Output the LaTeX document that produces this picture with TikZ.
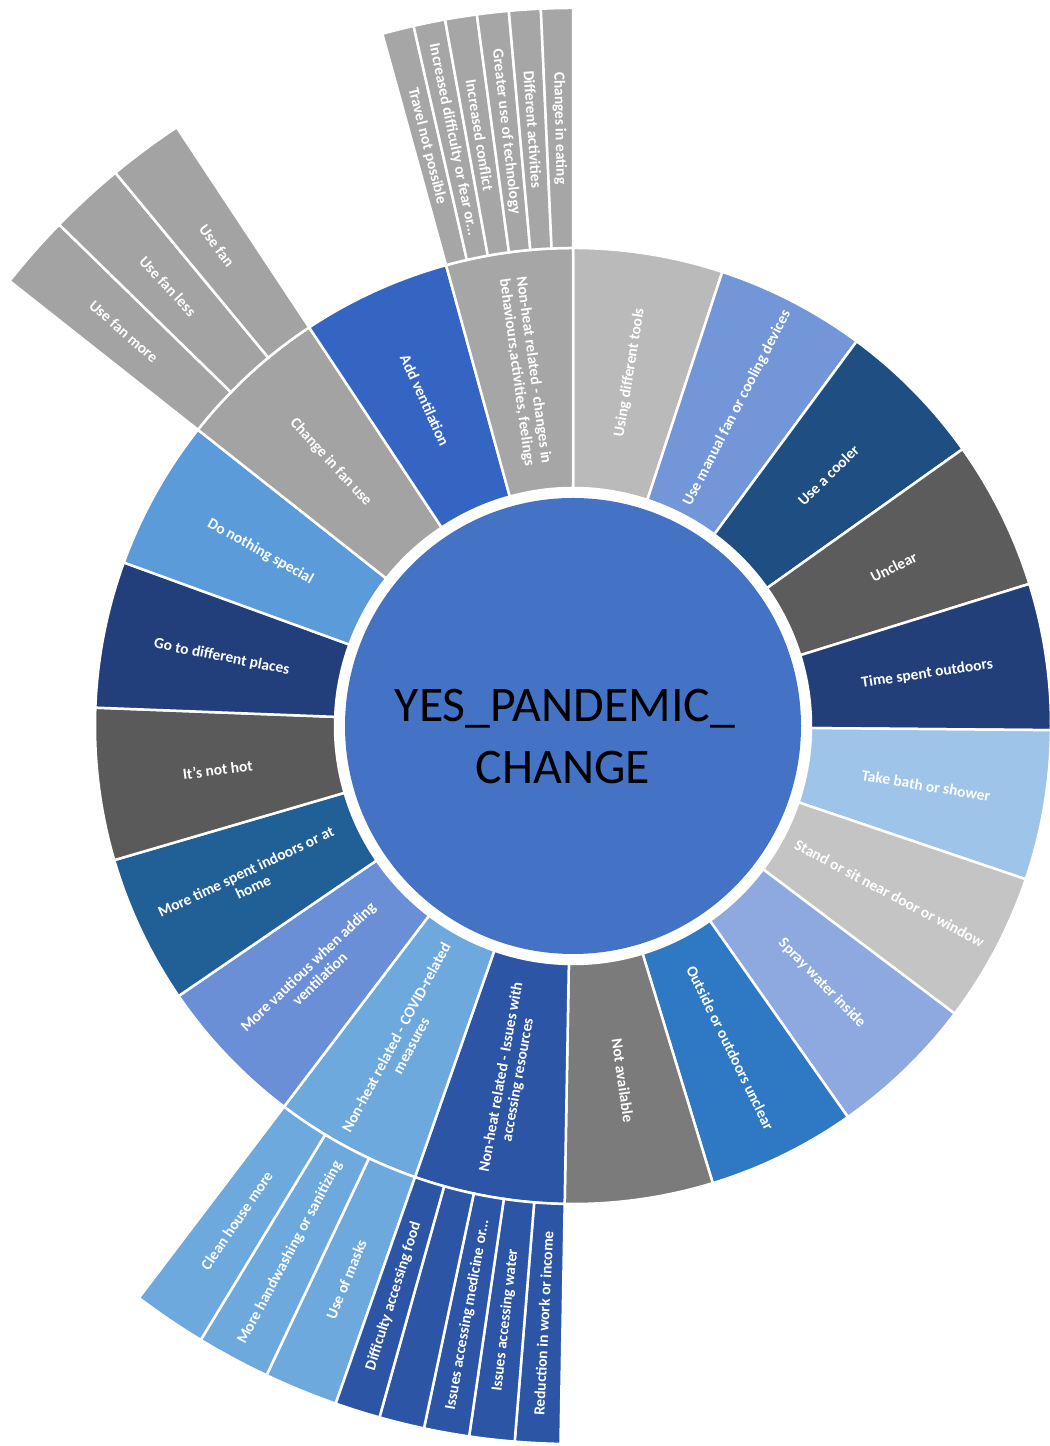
\documentclass[tikz,border=0pt]{standalone}
\usepackage{fontspec}
\setmainfont{Carlito}
\definecolor{cin}{HTML}{4472C4}
\definecolor{ctools}{HTML}{BABABA}
\definecolor{cmanual}{HTML}{7296D8}
\definecolor{ccooler}{HTML}{1F4E83}
\definecolor{cunclear}{HTML}{5C5C5C}
\definecolor{coutdoors}{HTML}{223F7A}
\definecolor{cbath}{HTML}{9EC4EA}
\definecolor{cstand}{HTML}{C4C4C4}
\definecolor{cspray}{HTML}{8EA9DF}
\definecolor{coutside}{HTML}{2E78C4}
\definecolor{cnotav}{HTML}{7B7B7B}
\definecolor{cissues}{HTML}{2D55A6}
\definecolor{ccovid}{HTML}{6EA9DE}
\definecolor{cvaut}{HTML}{6B8FD7}
\definecolor{cindoor}{HTML}{215F97}
\definecolor{cnothot}{HTML}{5A5A5A}
\definecolor{cplaces}{HTML}{223F7C}
\definecolor{cnothing}{HTML}{5B9BD9}
\definecolor{cfan}{HTML}{A3A3A3}
\definecolor{cvent}{HTML}{3565C3}
\definecolor{cbehav}{HTML}{A6A6A6}
% sector: start angle, end angle, inner r, outer r, colour
\newcommand\wedgeseg[5]{\filldraw[fill=#5,draw=white,line width=2.5bp,line join=miter]
  (#1:#3bp) arc[start angle=#1,end angle=#2,radius=#3bp] -- (#2:#4bp)
  arc[start angle=#2,end angle=#1,radius=#4bp] -- cycle;}
\begin{document}
\begin{tikzpicture}[x=1bp,y=1bp,
  lbl/.style={text=white,font=\fontsize{15.5}{17}\selectfont\bfseries,align=center,inner sep=0pt},
  title/.style={text=black,font=\fontsize{50}{60}\selectfont,inner sep=0pt,anchor=base}]
\useasboundingbox (0,0) rectangle (1049,1446);
\fill[white] (0,0) rectangle (1049,1446);
\begin{scope}[shift={(573,720)}]
\coordinate (C) at (0,0);
% inner circle
\fill[cin] (C) circle[radius=228bp];
% ring
\wedgeseg{90}{71.8}{238}{478}{ctools}
\wedgeseg{71.8}{53.6}{238}{478}{cmanual}
\wedgeseg{53.6}{35.4}{238}{478}{ccooler}
\wedgeseg{35.4}{17.3}{238}{478}{cunclear}
\wedgeseg{17.3}{-0.5}{238}{478}{coutdoors}
\wedgeseg{-0.5}{-18.7}{238}{478}{cbath}
\wedgeseg{-18.7}{-37}{238}{478}{cstand}
\wedgeseg{-37}{-54.9}{238}{478}{cspray}
\wedgeseg{-54.9}{-73}{238}{478}{coutside}
\wedgeseg{-73}{-91}{238}{478}{cnotav}
\wedgeseg{-91}{-109.3}{238}{478}{cissues}
\wedgeseg{-109.3}{-127.2}{238}{478}{ccovid}
\wedgeseg{-127.2}{-145.6}{238}{478}{cvaut}
\wedgeseg{-145.6}{-163.7}{238}{478}{cindoor}
\wedgeseg{-163.7}{-182.2}{238}{478}{cnothot}
\wedgeseg{-182.2}{-200}{238}{478}{cplaces}
\wedgeseg{-200}{-218.3}{238}{478}{cnothing}
\wedgeseg{-218.3}{-236.5}{238}{478}{cfan}
\wedgeseg{-236.5}{-254.6}{238}{478}{cvent}
\wedgeseg{-254.6}{-270}{238}{478}{cbehav}
% outer children: fan
\wedgeseg{141.7}{135.7}{478}{718}{cfan}
\wedgeseg{135.7}{129.6}{478}{718}{cfan}
\wedgeseg{129.6}{123.5}{478}{718}{cfan}
% behaviours
\wedgeseg{105.4}{102.83}{478}{718}{cbehav}
\wedgeseg{102.83}{100.27}{478}{718}{cbehav}
\wedgeseg{100.27}{97.7}{478}{718}{cbehav}
\wedgeseg{97.7}{95.13}{478}{718}{cbehav}
\wedgeseg{95.13}{92.57}{478}{718}{cbehav}
\wedgeseg{92.57}{90}{478}{718}{cbehav}
% covid
\wedgeseg{-109.3}{-115.27}{478}{718}{ccovid}
\wedgeseg{-115.27}{-121.23}{478}{718}{ccovid}
\wedgeseg{-121.23}{-127.2}{478}{718}{ccovid}
% issues
\wedgeseg{-91}{-94.66}{478}{718}{cissues}
\wedgeseg{-94.66}{-98.32}{478}{718}{cissues}
\wedgeseg{-98.32}{-101.98}{478}{718}{cissues}
\wedgeseg{-101.98}{-105.64}{478}{718}{cissues}
\wedgeseg{-105.64}{-109.3}{478}{718}{cissues}
% ring labels
\node[lbl,rotate=80.9] (l1) at (80.9:358bp) {Using different tools};
\node[lbl,rotate=62.7] (l2) at (62.7:358bp) {Use manual fan or cooling devices};
\node[lbl,rotate=44.5] (l3) at (44.5:358bp) {Use a cooler};
\node[lbl,rotate=26.35] (l4) at (26.35:358bp) {Unclear};
\node[lbl,rotate=8.4] (l5) at (8.4:358bp) {Time spent outdoors};
\node[lbl,rotate=-9.6] (l6) at (-9.6:358bp) {Take bath or shower};
\node[lbl,rotate=-27.85] (l7) at (-27.85:358bp) {Stand or sit near door or window};
\node[lbl,rotate=-45.95] (l8) at (-45.95:358bp) {Spray water inside};
\node[lbl,rotate=-63.95] (l9) at (-63.95:358bp) {Outside or outdoors unclear};
\node[lbl,rotate=-82] (l10) at (-82:358bp) {Not available};
\node[lbl,rotate=79.85] (l11) at (-100.15:358bp) {Non-heat related - Issues with\\accessing resources};
\node[lbl,rotate=61.75] (l12) at (-118.25:358bp) {Non-heat related - COVID-related\\measures};
\node[lbl,rotate=43.6] (l13) at (-136.4:358bp) {More vautious when adding\\ventilation};
\node[lbl,rotate=25.35] (l14) at (-154.65:358bp) {More time spent indoors or at\\home};
\node[lbl,rotate=7.05] (l15) at (-172.95:358bp) {It's not hot};
\node[lbl,rotate=-11.1] (l16) at (168.9:358bp) {Go to different places};
\node[lbl,rotate=-29.15] (l17) at (150.85:358bp) {Do nothing special};
\node[lbl,rotate=-47.4] (l18) at (132.6:358bp) {Change in fan use};
\node[lbl,rotate=-65.55] (l19) at (114.45:358bp) {Add ventilation};
\node[lbl,rotate=-82.3] (l20) at (97.7:358bp) {Non-heat related - changes in\\behaviours,activities, feelings};
% child labels
\node[lbl,rotate=-41.3] (f1) at (138.7:598bp) {Use fan more};
\node[lbl,rotate=-47.35] (f2) at (132.65:598bp) {Use fan less};
\node[lbl,rotate=-53.45] (f3) at (126.55:598bp) {Use fan};
\node[lbl,rotate=-75.9] (b1) at (104.12:598bp) {Travel not possible};
\node[lbl,rotate=-78.45] (b2) at (101.55:598bp) {Increased difficulty or fear or...};
\node[lbl,rotate=-81.02] (b3) at (98.98:598bp) {Increased conflict};
\node[lbl,rotate=-83.58] (b4) at (96.42:598bp) {Greater use of technology};
\node[lbl,rotate=-86.15] (b5) at (93.85:598bp) {Different activities};
\node[lbl,rotate=-88.72] (b6) at (91.28:598bp) {Changes in eating};
\node[lbl,rotate=67.72] (c1) at (-112.28:598bp) {Use of masks};
\node[lbl,rotate=61.75] (c2) at (-118.25:598bp) {More handwashing or sanitizing};
\node[lbl,rotate=55.78] (c3) at (-124.22:598bp) {Clean house more};
\node[lbl,rotate=87.17] (i1) at (-92.83:598bp) {Reduction in work or income};
\node[lbl,rotate=83.51] (i2) at (-96.49:598bp) {Issues accessing water};
\node[lbl,rotate=79.85] (i3) at (-100.15:598bp) {Issues accessing medicine or...};
\node[lbl,rotate=72.53] (i5) at (-107.47:598bp) {Difficulty accessing food};
\end{scope}
% centre title
\node[title] (t1) at (565,724) {YES\_PANDEMIC\_};
\node[title] (t2) at (563,662) {CHANGE};
\end{tikzpicture}
\end{document}
